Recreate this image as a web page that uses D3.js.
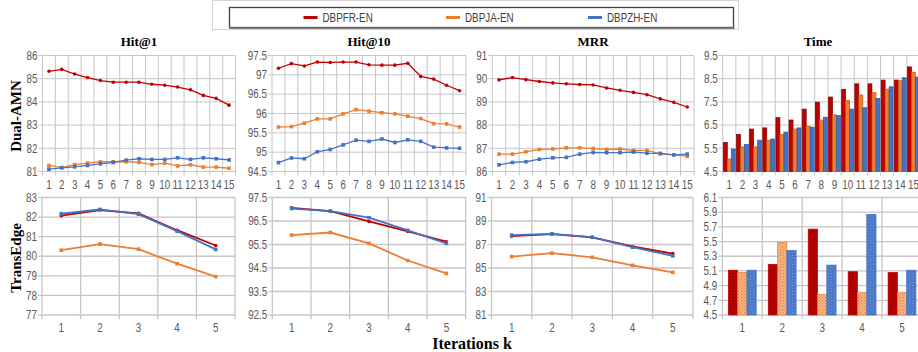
<!DOCTYPE html>
<html>
<head>
<meta charset="utf-8">
<script src="https://cdn.jsdelivr.net/npm/d3@7"></script>
<style>
  body { margin: 0; background: #fff; }
  svg { display: block; }
</style>
</head>
<body>
<script>
// series
var seriesNames = ["DBPFR-EN", "DBPJA-EN", "DBPZH-EN"];
var seriesColors = ["#c00000", "#ed7d31", "#4472c4"];

var itersTop = [1, 2, 3, 4, 5, 6, 7, 8, 9, 10, 11, 12, 13, 14, 15];
var itersBottom = [1, 2, 3, 4, 5];

// Dual-AMN (top row)
var dualHit1FR = [85.32, 85.40, 85.20, 85.05, 84.92, 84.85, 84.85, 84.85, 84.76, 84.72, 84.64, 84.52, 84.28, 84.15, 83.86];
var dualHit1JA = [81.26, 81.17, 81.30, 81.36, 81.42, 81.42, 81.42, 81.39, 81.30, 81.36, 81.24, 81.29, 81.19, 81.19, 81.14];
var dualHit1ZH = [81.10, 81.16, 81.20, 81.26, 81.33, 81.39, 81.49, 81.55, 81.52, 81.52, 81.59, 81.52, 81.59, 81.55, 81.50];

var dualHit10FR = [97.17, 97.29, 97.23, 97.33, 97.32, 97.33, 97.33, 97.26, 97.25, 97.25, 97.30, 96.96, 96.89, 96.73, 96.59];
var dualHit10JA = [95.65, 95.66, 95.75, 95.86, 95.86, 95.99, 96.10, 96.06, 96.02, 95.99, 95.93, 95.87, 95.74, 95.73, 95.65];
var dualHit10ZH = [94.73, 94.85, 94.83, 95.01, 95.07, 95.19, 95.31, 95.28, 95.34, 95.25, 95.32, 95.28, 95.13, 95.11, 95.10];

var dualMrrFR = [89.95, 90.05, 89.96, 89.88, 89.82, 89.78, 89.75, 89.73, 89.60, 89.50, 89.41, 89.31, 89.13, 88.98, 88.78];
var dualMrrJA = [86.75, 86.75, 86.85, 86.95, 86.97, 87.02, 87.02, 86.99, 86.95, 86.97, 86.91, 86.91, 86.76, 86.72, 86.65];
var dualMrrZH = [86.29, 86.39, 86.42, 86.53, 86.59, 86.61, 86.75, 86.82, 86.81, 86.81, 86.84, 86.79, 86.78, 86.72, 86.75];

var dualTimeFR = [5.75, 6.10, 6.33, 6.38, 6.82, 6.72, 7.19, 7.49, 7.71, 8.04, 8.28, 8.28, 8.44, 8.44, 9.01];
var dualTimeJA = [5.04, 5.56, 5.56, 5.85, 6.09, 6.33, 6.45, 6.72, 6.94, 7.57, 7.80, 7.90, 8.05, 8.41, 8.78];
var dualTimeZH = [5.47, 5.66, 5.85, 5.90, 6.20, 6.38, 6.41, 6.84, 6.91, 7.19, 7.25, 7.65, 8.15, 8.54, 8.57];

// TransEdge (bottom row)
var teHit1FR = [82.07, 82.36, 82.19, 81.33, 80.55];
var teHit1JA = [80.31, 80.62, 80.36, 79.62, 78.96];
var teHit1ZH = [82.17, 82.39, 82.15, 81.28, 80.35];

var teHit10FR = [97.06, 96.92, 96.48, 96.06, 95.62];
var teHit10JA = [95.90, 96.01, 95.55, 94.82, 94.27];
var teHit10ZH = [97.03, 96.92, 96.64, 96.10, 95.55];

var teMrrFR = [87.71, 87.89, 87.60, 86.83, 86.23];
var teMrrJA = [85.97, 86.26, 85.91, 85.23, 84.63];
var teMrrZH = [87.80, 87.91, 87.63, 86.77, 86.03];

var teTimeFR = [5.11, 5.19, 5.67, 5.09, 5.08];
var teTimeJA = [5.08, 5.49, 4.78, 4.81, 4.81];
var teTimeZH = [5.11, 5.38, 5.18, 5.87, 5.11];

// y ticks
var ticksHit1Top = [81, 82, 83, 84, 85, 86];
var ticksHit10Top = [94.5, 95, 95.5, 96, 96.5, 97, 97.5];
var ticksMrrTop = [86, 87, 88, 89, 90, 91];
var ticksTimeTop = [4.5, 5.5, 6.5, 7.5, 8.5, 9.5];
var ticksHit1Bottom = [77, 78, 79, 80, 81, 82, 83];
var ticksHit10Bottom = [92.5, 93.5, 94.5, 95.5, 96.5, 97.5];
var ticksMrrBottom = [81, 83, 85, 87, 89, 91];
var ticksTimeBottom = [4.5, 4.7, 4.9, 5.1, 5.3, 5.5, 5.7, 5.9, 6.1];

var titles = ["Hit@1", "Hit@10", "MRR", "Time"];

var W = 918, H = 352;
var gridColor = "#c6c6c6", labelColor = "#595959";
var tickFont = "'Liberation Sans', Arial, sans-serif";
var serif = "'Liberation Serif', 'Times New Roman', serif";
var squeeze = 0.82; // narrow the sans text like Calibri

var svg = d3.select("body").append("svg")
    .attr("width", W)
    .attr("height", H);

// dotted patterns for the lower bar chart
var defs = svg.append("defs");
var patternDefs = [
  {id: "patFR", bg: "#c00000", dot: "#7a0000"},
  {id: "patJA", bg: "#f6b68a", dot: "#ed7d31"},
  {id: "patZH", bg: "#4472c4", dot: "#7d9fdc"}
];
patternDefs.forEach(function(p) {
  var pat = defs.append("pattern")
      .attr("id", p.id)
      .attr("patternUnits", "userSpaceOnUse")
      .attr("width", 3).attr("height", 3);
  pat.append("rect").attr("width", 3).attr("height", 3).attr("fill", p.bg);
  pat.append("rect").attr("x", 0).attr("y", 0).attr("width", 1).attr("height", 1).attr("fill", p.dot);
  pat.append("rect").attr("x", 1.5).attr("y", 1.5).attr("width", 1).attr("height", 1).attr("fill", p.dot);
});

function frame(cfg, cats) {
  var g = svg.append("g");
  var x = d3.scaleBand().domain(cats).range([cfg.left, cfg.right]);
  var y = d3.scaleLinear().domain(d3.extent(cfg.ticks)).range([cfg.bottom, cfg.top]);

  // horizontal grid
  g.selectAll(".hg").data(cfg.ticks).enter().append("line")
      .attr("x1", cfg.left).attr("x2", cfg.right)
      .attr("y1", function(d) { return y(d); })
      .attr("y2", function(d) { return y(d); })
      .attr("stroke", gridColor).attr("stroke-width", cfg.gw);

  // vertical grid at category boundaries
  var bounds = cats.map(function(c) { return x(c); }).concat([cfg.right]);
  g.selectAll(".vg").data(bounds).enter().append("line")
      .attr("x1", function(d) { return d; }).attr("x2", function(d) { return d; })
      .attr("y1", cfg.top).attr("y2", cfg.bottom + 4)
      .attr("stroke", gridColor).attr("stroke-width", cfg.gw);

  // left tick marks
  g.selectAll(".lt").data(cfg.ticks).enter().append("line")
      .attr("x1", cfg.left - 4).attr("x2", cfg.left)
      .attr("y1", function(d) { return y(d); })
      .attr("y2", function(d) { return y(d); })
      .attr("stroke", gridColor).attr("stroke-width", cfg.gw);

  g.selectAll(".yl").data(cfg.ticks).enter().append("text")
      .attr("transform", function(d) { return "translate(" + (cfg.left - 5) + "," + y(d) + ") scale(" + squeeze + ",1)"; })
      .attr("dy", "0.35em")
      .attr("text-anchor", "end")
      .attr("font-family", tickFont).attr("font-size", 12)
      .attr("fill", labelColor)
      .text(function(d) { return String(d); });

  g.selectAll(".xl").data(cats).enter().append("text")
      .attr("transform", function(d) { return "translate(" + (x(d) + x.bandwidth() / 2) + "," + (cfg.bottom + 13) + ") scale(" + squeeze + ",1)"; })
      .attr("dy", "0.35em")
      .attr("text-anchor", "middle")
      .attr("font-family", tickFont).attr("font-size", 12)
      .attr("fill", labelColor)
      .text(function(d) { return d; });

  return {g: g, x: x, y: y};
}

function linePanel(cfg, cats, data) {
  var f = frame(cfg, cats);
  var cx = function(i) { return f.x(cats[i]) + f.x.bandwidth() / 2; };
  var line = d3.line()
      .x(function(d, i) { return cx(i); })
      .y(function(d) { return f.y(d); });
  data.forEach(function(vals, s) {
    f.g.append("path")
        .datum(vals)
        .attr("d", line)
        .attr("fill", "none")
        .attr("stroke", seriesColors[s])
        .attr("stroke-width", cfg.lw);
  });
  data.forEach(function(vals, s) {
    var m = f.g.selectAll(".m" + s).data(vals).enter();
    if (s === 0) {
      m.append("circle")
          .attr("cx", function(d, i) { return cx(i); })
          .attr("cy", function(d) { return f.y(d); })
          .attr("r", 1.8)
          .attr("fill", seriesColors[s]);
    } else {
      m.append("rect")
          .attr("x", function(d, i) { return cx(i) - 1.8; })
          .attr("y", function(d) { return f.y(d) - 1.8; })
          .attr("width", 3.6).attr("height", 3.6)
          .attr("fill", seriesColors[s]);
    }
  });
}

function barPanel(cfg, cats, data, fills, strokes) {
  var f = frame(cfg, cats);
  var inner = d3.scaleBand().domain([0, 1, 2])
      .range([0, f.x.bandwidth()])
      .paddingOuter(cfg.pad).paddingInner(0);
  data.forEach(function(vals, s) {
    f.g.selectAll(".b" + s).data(vals).enter().append("rect")
        .attr("x", function(d, i) { return f.x(cats[i]) + inner(s); })
        .attr("y", function(d) { return f.y(d); })
        .attr("width", inner.bandwidth())
        .attr("height", function(d) { return cfg.bottom - f.y(d); })
        .attr("fill", fills[s])
        .attr("stroke", strokes[s])
        .attr("stroke-width", 0.7);
  });
}

var top0 = 55.5, bot0 = 171.5, top1 = 197.5, bot1 = 315;

linePanel({left: 42.5, right: 235.5, top: top0, bottom: bot0, ticks: ticksHit1Top, gw: 1, lw: 1.3},
  itersTop, [dualHit1FR, dualHit1JA, dualHit1ZH]);
linePanel({left: 272, right: 466, top: top0, bottom: bot0, ticks: ticksHit10Top, gw: 1, lw: 1.3},
  itersTop, [dualHit10FR, dualHit10JA, dualHit10ZH]);
linePanel({left: 492.3, right: 694, top: top0, bottom: bot0, ticks: ticksMrrTop, gw: 1, lw: 1.3},
  itersTop, [dualMrrFR, dualMrrJA, dualMrrZH]);
barPanel({left: 722.7, right: 920, top: top0, bottom: bot0, ticks: ticksTimeTop, gw: 1, pad: 0.15},
  itersTop, [dualTimeFR, dualTimeJA, dualTimeZH],
  seriesColors, ["#7a0000", "#c55a11", "#2f5597"]);

linePanel({left: 42, right: 235, top: top1, bottom: bot1, ticks: ticksHit1Bottom, gw: 1.3, lw: 1.8},
  itersBottom, [teHit1FR, teHit1JA, teHit1ZH]);
linePanel({left: 272.3, right: 465.7, top: top1, bottom: bot1, ticks: ticksHit10Bottom, gw: 1.3, lw: 1.8},
  itersBottom, [teHit10FR, teHit10JA, teHit10ZH]);
linePanel({left: 491.5, right: 693, top: top1, bottom: bot1, ticks: ticksMrrBottom, gw: 1.3, lw: 1.8},
  itersBottom, [teMrrFR, teMrrJA, teMrrZH]);
barPanel({left: 722.3, right: 922, top: top1, bottom: bot1, ticks: ticksTimeBottom, gw: 1.3, pad: 0.65},
  itersBottom, [teTimeFR, teTimeJA, teTimeZH],
  ["url(#patFR)", "url(#patJA)", "url(#patZH)"], ["#c00000", "#ed7d31", "#4472c4"]);

// panel titles
var titleX = [139, 369, 593, 818];
svg.selectAll(".title").data(titles).enter().append("text")
    .attr("x", function(d, i) { return titleX[i]; })
    .attr("y", 46)
    .attr("text-anchor", "middle")
    .attr("font-family", serif).attr("font-weight", "bold").attr("font-size", 13)
    .attr("fill", "#000")
    .text(function(d) { return d; });

// row labels
[["Dual-AMN", 116], ["TransEdge", 258]].forEach(function(r) {
  svg.append("text")
      .attr("transform", "translate(21," + r[1] + ") rotate(-90)")
      .attr("text-anchor", "middle")
      .attr("font-family", serif).attr("font-weight", "bold").attr("font-size", 15)
      .attr("fill", "#000")
      .text(r[0]);
});

svg.append("text")
    .attr("x", 472).attr("y", 349)
    .attr("text-anchor", "middle")
    .attr("font-family", serif).attr("font-weight", "bold").attr("font-size", 16)
    .attr("fill", "#000")
    .text("Iterations k");

// legend
var lg = svg.append("g");
lg.append("rect").attr("x", 212.5).attr("y", 0.5).attr("width", 526).attr("height", 29)
    .attr("fill", "#fff").attr("stroke", "#d4d4d4");
lg.append("rect").attr("x", 229.5).attr("y", 7.5).attr("width", 504).attr("height", 20)
    .attr("fill", "#fff").attr("stroke", "#404040").attr("stroke-width", 1.3);
lg.append("line").attr("x1", 229).attr("x2", 734.5).attr("y1", 28.2).attr("y2", 28.2)
    .attr("stroke", "#808080").attr("stroke-width", 1.5);
var legX = [303.5, 446, 588];
seriesNames.forEach(function(name, i) {
  lg.append("line")
      .attr("x1", legX[i]).attr("x2", legX[i] + 14)
      .attr("y1", 17.5).attr("y2", 17.5)
      .attr("stroke", seriesColors[i]).attr("stroke-width", 3);
  lg.append("text")
      .attr("transform", "translate(" + (legX[i] + 19) + ",17.5) scale(" + squeeze + ",1)")
      .attr("dy", "0.35em")
      .attr("font-family", tickFont).attr("font-size", 12)
      .attr("fill", "#404040")
      .text(name);
});
</script>
</body>
</html>
